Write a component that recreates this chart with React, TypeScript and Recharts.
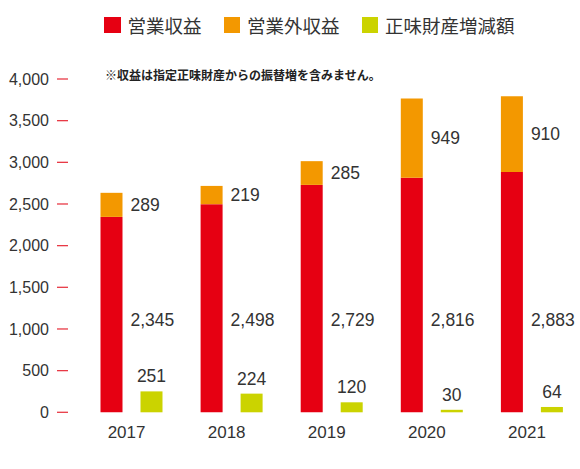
import { BarChart, Bar, XAxis, YAxis, Legend, LabelList } from 'recharts';

const years = ['2017', '2018', '2019', '2020', '2021'];
const operating = [2345, 2498, 2729, 2816, 2883];
const nonOperating = [289, 219, 285, 949, 910];
const netAssetChange = [251, 224, 120, 30, 64];
const yTicks = [0, 500, 1000, 1500, 2000, 2500, 3000, 3500, 4000];

const names = { operating: '営業収益', nonOperating: '営業外収益', netAssetChange: '正味財産増減額' };
const colors = { operating: '#e60012', nonOperating: '#f39800', netAssetChange: '#cbd300' };
const note = '※収益は指定正味財産からの振替増を含みません。';

const data = years.map((year, i) => ({
  year,
  operating: operating[i],
  nonOperating: nonOperating[i],
  netAssetChange: netAssetChange[i],
}));

const NUM_FONT = '"Liberation Sans Narrow", "Liberation Sans", sans-serif';
const JP_FONT = '"Noto Sans CJK JP", sans-serif';
const TEXT = '#333';

const fmt = (v: unknown) => Number(v).toLocaleString('en-US');

function YTick({ x, y, payload }: any) {
  return (
    <g>
      <text x={x - 32.5} y={y} dy="0.36em" textAnchor="end" fill={TEXT} fontSize={16} fontFamily={NUM_FONT}>
        {fmt(payload.value)}
      </text>
      <line x1={x - 24.5} x2={x - 13.5} y1={y} y2={y} stroke="#e83a46" strokeWidth={1.3} />
    </g>
  );
}

function XTick({ x, y, payload }: any) {
  return (
    <text x={x - 5} y={y} dy={26} textAnchor="middle" fill={TEXT} fontSize={17} fontFamily={NUM_FONT}>
      {payload.value}
    </text>
  );
}

// red labels all sit at the same height, a fixed distance above the base
function OperatingLabel(props: any) {
  const x = Number(props.x);
  const y = Number(props.y);
  const w = Number(props.width);
  const h = Number(props.height);
  return (
    <text x={x + w + 8} y={y + h - 92.5} dy="0.36em" fill={TEXT} fontSize={17.5} fontFamily={NUM_FONT}>
      {fmt(props.value)}
    </text>
  );
}

function renderLegend({ payload }: any) {
  return (
    <div style={{ position: 'relative', height: 79, fontFamily: JP_FONT, color: TEXT }}>
      <div style={{ position: 'absolute', left: 104, top: 16, height: 18, display: 'flex', alignItems: 'center' }}>
        {(payload || []).map((p: any) => (
          <div key={p.value} style={{ display: 'flex', alignItems: 'center', marginRight: 22 }}>
            <span style={{ width: 16.5, height: 16.5, background: p.color, display: 'inline-block', marginRight: 7 }} />
            <span style={{ fontSize: 18.5, lineHeight: '18px', whiteSpace: 'nowrap' }}>{p.value}</span>
          </div>
        ))}
      </div>
      <div
        style={{
          position: 'absolute',
          left: 105,
          top: 68.5,
          fontSize: 12,
          lineHeight: '12px',
          fontWeight: 'bold',
          color: '#222',
          whiteSpace: 'nowrap',
        }}
      >
        {note}
      </div>
    </div>
  );
}

export default function App() {
  return (
    <div style={{ position: 'absolute', left: 0, top: 0, width: 580, height: 469, overflow: 'hidden', background: '#fff' }}>
      <BarChart
        width={582}
        height={469}
        data={data}
        margin={{ top: 0, right: 0, left: 0, bottom: 0 }}
        barGap={18}
        barSize={22}
      >
        <Legend verticalAlign="top" align="left" content={renderLegend} />
        <XAxis
          dataKey="year"
          axisLine={false}
          tickLine={false}
          tickSize={0}
          tickMargin={0}
          height={56.7}
          interval={0}
          tick={<XTick />}
        />
        <YAxis
          domain={[0, 4000]}
          ticks={yTicks}
          width={81.5}
          axisLine={false}
          tickLine={false}
          tickSize={0}
          tickMargin={0}
          interval={0}
          tick={<YTick />}
        />
        <Bar dataKey="operating" name={names.operating} stackId="a" fill={colors.operating} isAnimationActive={false}>
          <LabelList dataKey="operating" content={<OperatingLabel />} />
        </Bar>
        <Bar dataKey="nonOperating" name={names.nonOperating} stackId="a" fill={colors.nonOperating} isAnimationActive={false}>
          <LabelList
            dataKey="nonOperating"
            position="right"
            offset={8}
            fill={TEXT}
            fontSize={17.5}
            fontFamily={NUM_FONT}
            formatter={fmt}
          />
        </Bar>
        <Bar dataKey="netAssetChange" name={names.netAssetChange} fill={colors.netAssetChange} isAnimationActive={false}>
          <LabelList
            dataKey="netAssetChange"
            position="top"
            offset={9}
            fill={TEXT}
            fontSize={17.5}
            fontFamily={NUM_FONT}
            formatter={fmt}
          />
        </Bar>
      </BarChart>
    </div>
  );
}
